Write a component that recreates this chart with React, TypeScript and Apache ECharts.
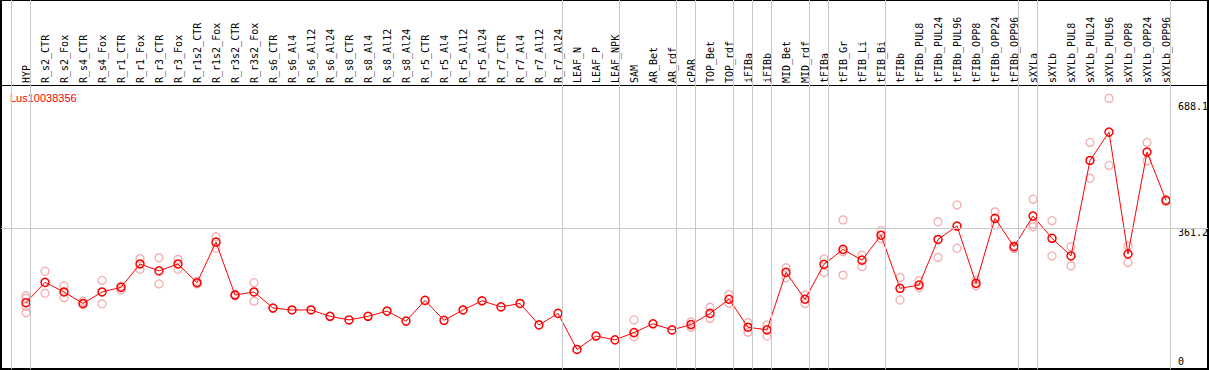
import React, { useEffect, useRef } from "react";
import * as echarts from "echarts";

const categories = [
  "HYP", "R_s2_CTR", "R_s2_Fox", "R_s4_CTR", "R_s4_Fox", "R_r1_CTR", "R_r1_Fox", "R_r3_CTR", "R_r3_Fox",
  "R_r1s2_CTR", "R_r1s2_Fox", "R_r3s2_CTR", "R_r3s2_Fox", "R_s6_CTR", "R_s6_Al4", "R_s6_Al12", "R_s6_Al24",
  "R_s8_CTR", "R_s8_Al4", "R_s8_Al12", "R_s8_Al24", "R_r5_CTR", "R_r5_Al4", "R_r5_Al12", "R_r5_Al24",
  "R_r7_CTR", "R_r7_Al4", "R_r7_Al12", "R_r7_Al24", "LEAF_N", "LEAF_P", "LEAF_NPK", "SAM", "AR_Bet", "AR_rdf",
  "cPAR", "TOP_Bet", "TOP_rdf", "iFIBa", "iFIBb", "MID_Bet", "MID_rdf", "tFIBa", "tFIB_Gr", "tFIB_Li", "tFIB_Bi",
  "tFIBb", "tFIBb_PUL8", "tFIBb_PUL24", "tFIBb_PUL96", "tFIBb_OPP8", "tFIBb_OPP24", "tFIBb_OPP96", "sXYLa",
  "sXYLb", "sXYLb_PUL8", "sXYLb_PUL24", "sXYLb_PUL96", "sXYLb_OPP8", "sXYLb_OPP24", "sXYLb_OPP96",
];

const meanValues = [
  167, 220, 195, 165, 195, 207, 268, 250, 268, 219, 325, 187, 195,
  153, 148, 148, 131.5, 122, 131.5, 145, 119, 173, 121, 148, 172, 156, 165, 109, 139,
  45, 80, 70, 89, 112, 96, 110, 139, 176, 103, 96, 246, 176,
  267, 306, 278, 343, 204.5, 213, 332, 367, 217.5, 387, 313,
  393, 335, 289, 538, 612, 294, 560, 434,
];

const replicateValues: number[][] = [
  [185, 178, 157, 141], [249, 191.5], [210.5, 180], [171, 162], [225, 164], [210, 200],
  [282, 254], [284, 216], [280, 254], [223, 216], [339, 309], [189, 185], [219, 171],
  [], [], [], [], [], [], [], [], [], [], [], [], [], [], [], [], [], [], [],
  [122, 78], [], [], [117, 103], [155, 126], [188, 165], [115, 90], [109, 80], [258, 232], [187, 165],
  [281, 246], [383, 300, 239], [291, 261], [355, 334], [233, 174], [224, 206], [378, 285], [422, 309],
  [226, 211], [404, 370], [316, 308], [437, 372, 365], [381, 289], [313, 263], [585, 491.5],
  [700, 525], [315, 272], [585, 537], [436, 431],
];

const groupDividers = [-1, 0, 28, 31, 34, 35, 37, 38, 39, 41, 42, 45, 52, 53, 60];
const axisTickValues = [0, 361.2, 688.1];
const referenceLine = 361.2;
const geneId = "Lus10038356";

export default function App() {
  const ref = useRef<HTMLDivElement>(null);
  useEffect(() => {
    document.body.style.margin = "0";
    const chart = echarts.init(ref.current!, null, { renderer: "svg" });
    const xMin = -25 / 19;
    const xMax = xMin + 1207 / 19;
    const gray = "#c8c8c8";
    const mono = "'DejaVu Sans Mono', monospace";

    chart.setOption({
      animation: false,
      grid: {
        left: 1, right: 1, top: 0, bottom: 1,
        show: true, borderColor: "#000", borderWidth: 2,
        outerBoundsMode: "none", containLabel: false,
      },
      xAxis: {
        type: "value", min: xMin, max: xMax, position: "top", offset: -85,
        axisLine: { show: true, onZero: false, lineStyle: { color: "#000", width: 1 } },
        axisTick: { show: false },
        splitLine: { show: false },
        axisLabel: { show: false },
      },
      yAxis: {
        type: "value", min: -6, max: 956.7, position: "right",
        axisLine: { show: false }, axisTick: { show: false },
        axisLabel: { show: false }, splitLine: { show: false },
      },
      series: [
        {
          type: "scatter",
          z: 1,
          symbol: "circle",
          symbolSize: 8,
          itemStyle: { color: "rgba(0,0,0,0)", borderColor: "#f09a9a", borderWidth: 1.3 },
          data: replicateValues.flatMap((arr, i) => arr.map((v) => [i, v])),
          markLine: {
            silent: true,
            symbol: ["none", "none"],
            label: { show: false },
            lineStyle: { color: gray, width: 1, type: "solid" },
            data: [
              ...groupDividers.map((i) => ({ xAxis: i + 0.24 })),
              { yAxis: referenceLine },
            ],
          },
        },
        {
          type: "line",
          z: 3,
          symbol: "circle",
          symbolSize: 8,
          showSymbol: true,
          itemStyle: { color: "rgba(0,0,0,0)", borderColor: "#ff0000", borderWidth: 1.5 },
          lineStyle: { color: "#ff0000", width: 1 },
          data: meanValues.map((v, i) => [i, v]),
        },
      ],
    });

    const labelOffsets = [-5, 4, 4];
    const tickTexts = axisTickValues.map((v, k) => {
      const py = chart.convertToPixel({ yAxisIndex: 0 }, v) as number;
      return {
        type: "text",
        x: 1178,
        y: py + labelOffsets[k],
        style: {
          text: String(v), fill: "#000", font: `10px ${mono}`,
          textAlign: "left", textVerticalAlign: "middle",
        },
      };
    });

    const categoryTexts = categories.map((name, i) => {
      const px = chart.convertToPixel({ xAxisIndex: 0 }, i) as number;
      return {
        type: "text",
        x: px,
        y: 83,
        rotation: Math.PI / 2,
        style: {
          text: name, fill: "#000", font: `10px ${mono}`,
          textAlign: "left", textVerticalAlign: "middle",
        },
      };
    });

    chart.setOption({
      graphic: [
        {
          type: "text", x: 10, y: 98,
          style: {
            text: geneId, fill: "#ff0000", font: "11px 'Liberation Sans', Arial, sans-serif",
            textAlign: "left", textVerticalAlign: "middle",
          },
        },
        ...categoryTexts,
        ...tickTexts,
      ],
    });

    return () => chart.dispose();
  }, []);
  return <div ref={ref} style={{ width: 1209, height: 370 }} />;
}
